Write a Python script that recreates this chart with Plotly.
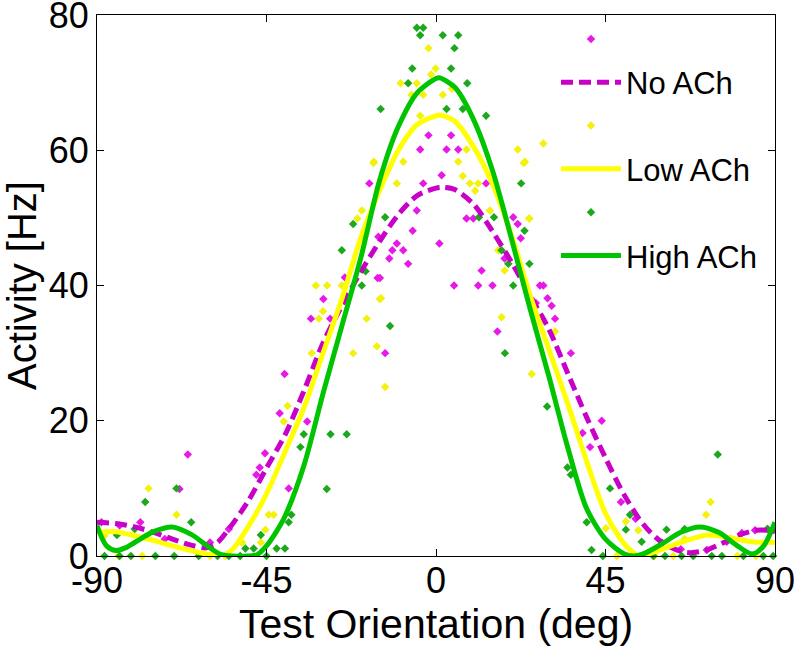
import plotly.graph_objects as go

# ---------------- data ----------------
# fitted tuning curves: orientation (deg) -> activity (Hz)
no_curve_x = [-90, -85, -80, -75, -70, -65, -61, -58, -55, -50, -45, -40, -35, -30, -25, -20, -15, -10, -5, 0, 2,
              5, 10, 15, 20, 25, 30, 35, 40, 45, 50, 55, 60, 65, 68, 72, 76, 80, 85, 88, 90]
no_curve_y = [5.0, 4.8, 4.3, 3.5, 2.5, 1.6, 1.2, 2.0, 4.0, 8.0, 13.0, 18.0, 24.5, 31.5, 37.0, 42.0, 46.5, 50.5, 53.3, 54.4, 54.5,
              54.2, 52.0, 48.0, 43.5, 38.5, 33.5, 27.0, 20.5, 14.5, 9.0, 4.7, 2.0, 0.7, 0.5, 0.9, 1.9, 3.0, 3.8, 3.8, 3.6]

low_curve_x = [-90, -85, -80, -75, -70, -65, -60, -57, -54, -50, -45, -40, -35, -30, -25, -20, -15, -10, -5, 0, 1,
               5, 10, 15, 20, 25, 30, 35, 40, 45, 50, 54, 58, 65, 72, 78, 84, 90]
low_curve_y = [3.5, 3.6, 3.0, 2.3, 1.5, 0.8, 0.2, 0.0, 1.0, 4.2, 9.2, 15.5, 22.0, 30.0, 38.0, 47.0, 54.0, 60.0, 63.8, 65.1, 65.2,
               64.3, 60.5, 55.0, 47.5, 38.5, 30.5, 22.5, 14.0, 6.3, 1.8, 0.0, 0.6, 2.0, 3.1, 2.7, 2.1, 2.0]

high_curve_x = [-90, -87.5, -85, -82.5, -80, -75, -70, -65, -60, -57, -54, -50, -47.5, -45, -42.5, -40, -35, -30, -25,
                -20, -15, -10, -5, 0, 1, 5, 10, 15, 20, 25, 30, 35, 40, 45, 50, 52.5, 55, 60, 65, 70, 75, 80, 84, 87, 90]
high_curve_y = [4.5, 1.5, 0.8, 1.2, 2.0, 3.6, 4.3, 3.2, 1.2, 0.2, 0.0, 0.0, 0.2, 1.5, 3.5, 6.0, 13.5, 24.0, 34.0,
                44.0, 55.5, 63.5, 68.5, 70.6, 70.7, 69.3, 64.5, 57.0, 47.0, 36.5, 26.5, 16.0, 7.0, 2.5, 0.3, 0.0, 0.3,
                1.8, 3.5, 4.3, 3.5, 1.5, 0.3, 1.5, 5.0]

# measured responses (scatter)
no_pts_x = [-2.0, 4.0, -4.2, 2.8, 5.9, 1.5, -3.4, 13.3, -5.1, 8.1, 9.9, -6.2, 0.9, -10.4, -11.6, -8.7, -12.4, -7.4,
            -15.5, 12.1, 4.8, 11.2, 15.0, 20.5, 21.7, 22.5, 18.2, 26.5, -17.7, -15.3, -29.9, -33.2, -28.1, -24.2,
            27.6, 28.5, 29.6, 30.7, 31.6, 16.3, -40.2, -41.5, -34.2, -65.9, -46.8, -47.7, -39.1, -68.1, -78.5,
            -88.8, -13.5, -45.4, 44.0, 38.9, 40.9, 49.1, 71.9, 77.2, 81.2, 84.7, 35.8, -14.9, -60.0, -55.0, 60.0,
            65.0, 88.0, -84.0, -72.0, 53.0]
no_pts_y = [62.2, 62.2, 60.1, 60.1, 60.1, 56.3, 55.1, 55.1, 51.1, 49.9, 49.9, 48.1, 46.2, 46.2, 45.2, 45.2, 44.0, 43.2,
            41.1, 42.2, 40.0, 40.0, 40.0, 50.1, 49.1, 47.0, 44.0, 37.4, 55.1, 47.2, 38.0, 35.1, 35.1, 41.2,
            40.0, 40.0, 38.1, 37.0, 35.1, 33.2, 26.9, 21.1, 19.9, 15.0, 13.1, 12.0, 10.0, 9.9, 5.0,
            5.0, 30.0, 15.2, 20.0, 18.2, 16.1, 8.0, 0.9, 2.1, 3.4, 3.8, 30.0, 41.1, 2.0, 4.0, 2.0,
            1.0, 4.0, 4.5, 2.5, 5.5]

low_pts_x = [-2.0, -0.1, -1.3, -9.4, -5.1, -6.5, -3.4, 1.8, 4.2, -4.2, 8.1, 21.7, 23.6, 5.9, -8.7, -16.5, 7.1, -10.4,
             9.0, 11.2, 10.4, 14.3, 24.8, 16.5, 18.2, -14.6, 17.4, 23.3, -16.6, -19.7, -20.9, -31.9, -28.9, -25.0,
             -30.0, -31.1, -18.4, 28.5, 24.7, 31.6, 25.4, -33.0, -14.9, -13.5, -15.7, -22.0, -76.3, -68.9, -39.4,
             -40.4, -44.4, -43.1, -45.3, -46.5, -51.5, -84.3, 72.9, 71.7, 50.4, 53.7, 45.1, -78.0, -60.0, -56.0,
             48.0, 58.0, 63.0, 80.0, 85.0, -88.0, 66.0]
low_pts_y = [75.1, 72.1, 71.2, 69.9, 69.9, 68.2, 68.2, 68.2, 69.1, 65.1, 60.1, 60.1, 58.3, 58.3, 58.3, 58.3, 56.2, 55.1,
             55.1, 55.1, 54.0, 51.1, 49.9, 45.2, 42.2, 38.1, 35.3, 58.1, 58.1, 51.1, 49.9, 40.0, 40.0, 40.0,
             36.2, 35.1, 35.1, 61.0, 49.9, 33.2, 26.9, 30.0, 38.0, 25.0, 31.0, 30.0, 10.0, 6.1, 22.2,
             19.9, 6.1, 6.1, 3.9, 2.0, 2.0, 0.0, 8.0, 6.1, 5.1, 3.8, 4.1, 0.0, 0.0, 0.0,
             0.0, 0.0, 0.0, 0.0, 0.0, 3.0, 2.5]

high_pts_x = [-5.1, -3.4, -4.2, 1.8, 5.9, 4.9, -6.3, 4.0, -7.4, 8.3, -14.7, 2.8, 13.3, 7.1, 22.6, -13.5, 11.4, 23.5,
              17.4, 19.2, 24.8, 20.5, 15.4, -22.0, -25.0, -18.7, -19.7, -12.2, -23.7, -28.0, -29.0, 18.3, 29.5,
              -35.1, -36.0, -38.4, -39.1, -46.5, -77.2, -68.9, -50.6, -48.4, -42.3, -40.1, -88.0, -84.0, -81.0,
              -74.5, -69.5, -63.0, -58.0, -55.0, -52.0, -45.0, 74.8, 34.9, 35.8, 46.2, 40.0, 51.5, 61.2, 50.4,
              41.3, 54.6, 44.3, 57.7, 60.8, 65.2, 68.3, 73.2, 75.9, 81.6, 86.9, 89.5, -84.7, -80.0, -65.0, 66.0,
              78.0, 88.0]
high_pts_y = [78.1, 78.1, 77.0, 77.0, 77.0, 75.1, 72.1, 72.1, 69.9, 69.9, 66.1, 66.1, 65.1, 66.1, 55.1, 50.1, 50.1, 48.1,
              45.2, 43.2, 43.2, 40.0, 50.1, 49.1, 45.2, 42.1, 40.0, 34.0, 18.0, 18.0, 9.9, 30.0, 22.1,
              18.0, 16.1, 6.1, 5.0, 3.1, 8.0, 10.0, 1.1, 1.1, 1.1, 1.1, 0.0, 0.0, 0.0,
              0.0, 0.0, 0.0, 0.0, 0.0, 0.0, 0.0, 15.0, 13.1, 12.0, 10.0, 5.0, 6.1, 3.9, 3.9,
              0.9, 2.1, 0.0, 0.0, 0.0, 0.0, 0.0, 0.0, 0.0, 0.0, 0.0, 0.0, 3.1, 4.0, 5.0, 4.0,
              2.5, 4.0]

series_names = ["No ACh", "Low ACh", "High ACh"]
x_ticks = [-90, -45, 0, 45, 90]
y_ticks = [0, 20, 40, 60, 80]

# ---------------- styling ----------------
FONT = "Liberation Sans, Arial, Helvetica, sans-serif"
MAG_LINE, MAG_PT = "#C800C8", "#E619E6"
YEL_LINE, YEL_PT = "#FFFF00", "#F2F20A"
GRN_LINE, GRN_PT = "#00C400", "#1CA81C"

fig = go.Figure()

# scatter points (drawn first, underneath the curves)
for px_, py_, col, rank in [(no_pts_x, no_pts_y, MAG_PT, 1),
                            (low_pts_x, low_pts_y, YEL_PT, 3),
                            (high_pts_x, high_pts_y, GRN_PT, 5)]:
    fig.add_trace(go.Scatter(x=px_, y=py_, mode="markers", name=" ",
                             marker=dict(symbol="diamond", size=6.5, color=col, line=dict(width=0)),
                             cliponaxis=False, legendrank=rank))

# fitted curves
fig.add_trace(go.Scatter(x=no_curve_x, y=no_curve_y, mode="lines", name=series_names[0],
                         line=dict(color=MAG_LINE, width=5, dash="12px,6px", shape="spline", smoothing=0.8),
                         legendrank=2))
fig.add_trace(go.Scatter(x=low_curve_x, y=low_curve_y, mode="lines", name=series_names[1],
                         line=dict(color=YEL_LINE, width=5, shape="spline", smoothing=0.8),
                         legendrank=4))
fig.add_trace(go.Scatter(x=high_curve_x, y=high_curve_y, mode="lines", name=series_names[2],
                         line=dict(color=GRN_LINE, width=5, shape="spline", smoothing=0.8),
                         legendrank=6))

axis_common = dict(showline=True, linecolor="black", linewidth=1, mirror="ticks",
                   ticks="inside", ticklen=7, tickcolor="black", tickwidth=1,
                   showgrid=False, zeroline=False, ticklabeloverflow="allow",
                   automargin=False,
                   tickfont=dict(family=FONT, size=36, color="black"))

fig.update_layout(
    template="none",
    width=795, height=650,
    margin=dict(l=97, r=20, t=15, b=94, autoexpand=False),
    paper_bgcolor="white", plot_bgcolor="white",
    font=dict(family=FONT, color="black"),
    xaxis=dict(range=[-90, 90], tickvals=x_ticks, ticktext=[str(v) for v in x_ticks],
               ticklabelstandoff=-7,
               title=dict(text="Test Orientation (deg)", font=dict(family=FONT, size=41), standoff=0),
               **axis_common),
    yaxis=dict(range=[0, 80], tickvals=y_ticks, ticktext=[str(v) for v in y_ticks],
               title=dict(text="Activity [Hz]", font=dict(family=FONT, size=40), standoff=23),
               **axis_common),
    showlegend=True,
    legend=dict(x=0.677, y=1.005, xanchor="left", yanchor="top",
                bgcolor="rgba(0,0,0,0)", borderwidth=0,
                font=dict(family=FONT, size=31, color="black"),
                itemwidth=60, tracegroupgap=0),
)

# remove the default page margin so the 795x650 figure fills the window exactly
fig.write_html("out.html",
               config={"displayModeBar": False},
               post_script="document.body.style.margin='0';document.body.style.overflow='hidden';")
